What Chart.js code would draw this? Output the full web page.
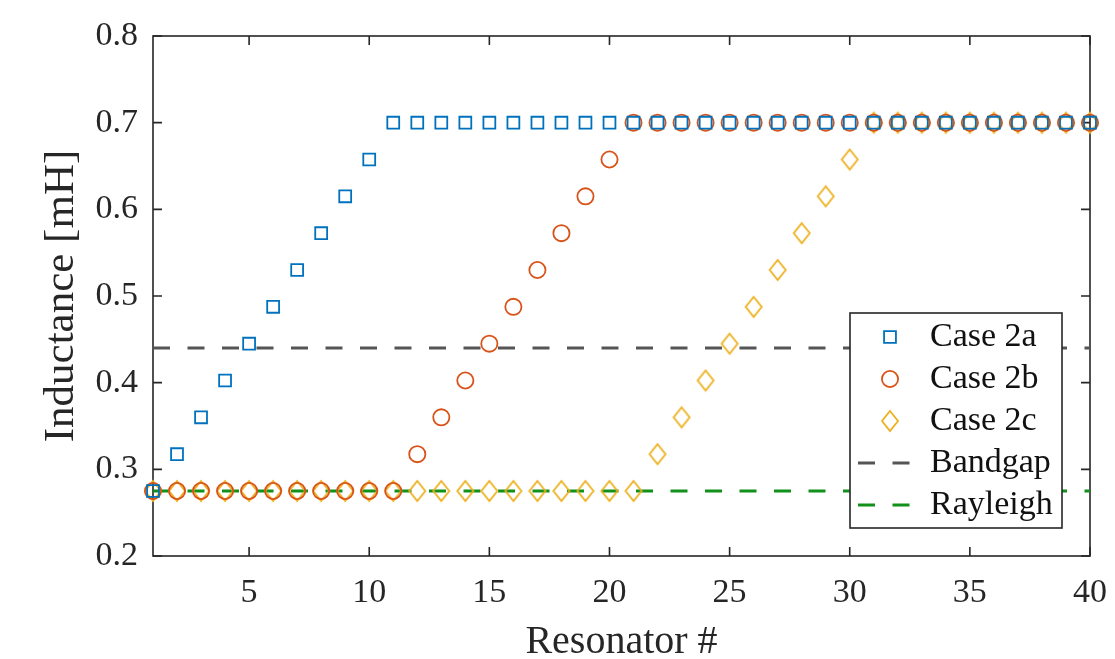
<!DOCTYPE html>
<html>
<head>
<meta charset="utf-8">
<script src="https://cdn.jsdelivr.net/npm/chart.js@4/dist/chart.umd.min.js"></script>
<style>
  html, body { margin: 0; padding: 0; background: #ffffff; }
  #wrap { width: 1115px; height: 659px; }
</style>
</head>
<body>
<div id="wrap"><canvas id="c" width="1115" height="659"></canvas></div>
<script>
// ---- Data ----
const resonator = [1,2,3,4,5,6,7,8,9,10,11,12,13,14,15,16,17,18,19,20,
                   21,22,23,24,25,26,27,28,29,30,31,32,33,34,35,36,37,38,39,40];
const case2a = [0.275,0.3175,0.36,0.4025,0.445,0.4875,0.53,0.5725,0.615,0.6575,
                0.7,0.7,0.7,0.7,0.7,0.7,0.7,0.7,0.7,0.7,
                0.7,0.7,0.7,0.7,0.7,0.7,0.7,0.7,0.7,0.7,
                0.7,0.7,0.7,0.7,0.7,0.7,0.7,0.7,0.7,0.7];
const case2b = [0.275,0.275,0.275,0.275,0.275,0.275,0.275,0.275,0.275,0.275,
                0.275,0.3175,0.36,0.4025,0.445,0.4875,0.53,0.5725,0.615,0.6575,
                0.7,0.7,0.7,0.7,0.7,0.7,0.7,0.7,0.7,0.7,
                0.7,0.7,0.7,0.7,0.7,0.7,0.7,0.7,0.7,0.7];
const case2c = [0.275,0.275,0.275,0.275,0.275,0.275,0.275,0.275,0.275,0.275,
                0.275,0.275,0.275,0.275,0.275,0.275,0.275,0.275,0.275,0.275,
                0.275,0.3175,0.36,0.4025,0.445,0.4875,0.53,0.5725,0.615,0.6575,
                0.7,0.7,0.7,0.7,0.7,0.7,0.7,0.7,0.7,0.7];
const bandgapX = [1, 40];
const bandgapY = [0.44, 0.44];
const rayleighX = [1, 40];
const rayleighY = [0.275, 0.275];
const xTicks = [5, 10, 15, 20, 25, 30, 35, 40];
const yTicks = [0.2, 0.3, 0.4, 0.5, 0.6, 0.7, 0.8];
const seriesNames = ['Case 2a', 'Case 2b', 'Case 2c', 'Bandgap', 'Rayleigh'];

// ---- Styles ----
const FONT = '"Liberation Serif", "Times New Roman", serif';
const AXIS_COLOR = '#262626';
const C_BLUE = '#0072BD', C_ORANGE = '#D95319', C_YELLOW = '#EDB120';
const C_GRAY = '#555555', C_GREEN = '#11901a';

function makeDiamond(w, h, color, lw) {
  const c = document.createElement('canvas');
  c.width = w + 4; c.height = h + 4;
  const g = c.getContext('2d');
  const cx = c.width / 2, cy = c.height / 2;
  g.strokeStyle = color; g.lineWidth = lw; g.lineJoin = 'miter';
  g.beginPath();
  g.moveTo(cx, cy - h / 2); g.lineTo(cx + w / 2, cy);
  g.lineTo(cx, cy + h / 2); g.lineTo(cx - w / 2, cy);
  g.closePath(); g.stroke();
  return c;
}
const diamondImg = makeDiamond(16, 20, C_YELLOW, 1.8);

const toXY = (xs, ys) => xs.map((x, i) => ({ x: x, y: ys[i] }));

const markerBase = { showLine: false, backgroundColor: 'rgba(0,0,0,0)', pointBorderWidth: 1.8,
                     pointHoverRadius: 8, clip: false };

const datasets = [
  Object.assign({}, markerBase, { label: seriesNames[0], data: toXY(resonator, case2a),
    borderColor: C_BLUE, pointBorderColor: C_BLUE, pointStyle: 'rect', pointRadius: 8.4 }),
  Object.assign({}, markerBase, { label: seriesNames[1], data: toXY(resonator, case2b),
    borderColor: C_ORANGE, pointBorderColor: C_ORANGE, pointStyle: 'circle', pointRadius: 8.1 }),
  Object.assign({}, markerBase, { label: seriesNames[2], data: toXY(resonator, case2c),
    borderColor: C_YELLOW, pointBorderColor: C_YELLOW, pointStyle: diamondImg, pointRadius: 10 }),
  { label: seriesNames[3], data: toXY(bandgapX, bandgapY), showLine: true, borderColor: C_GRAY,
    borderWidth: 3, borderDash: [17, 17.5], pointRadius: 0, fill: false, clip: false },
  { label: seriesNames[4], data: toXY(rayleighX, rayleighY), showLine: true, borderColor: C_GREEN,
    borderWidth: 3, borderDash: [17, 17.5], pointRadius: 0, fill: false, clip: false }
];

// Frame with inward ticks on all four sides
const framePlugin = {
  id: 'frame',
  beforeDatasetsDraw(chart) {
    const { ctx, chartArea: a, scales } = chart;
    const tl = 9;
    ctx.save();
    ctx.strokeStyle = AXIS_COLOR; ctx.lineWidth = 1.6;
    ctx.strokeRect(a.left, a.top, a.right - a.left, a.bottom - a.top);
    ctx.beginPath();
    scales.x.ticks.forEach(t => {
      const px = scales.x.getPixelForValue(t.value);
      ctx.moveTo(px, a.bottom); ctx.lineTo(px, a.bottom - tl);
      ctx.moveTo(px, a.top); ctx.lineTo(px, a.top + tl);
    });
    scales.y.ticks.forEach(t => {
      const py = scales.y.getPixelForValue(t.value);
      ctx.moveTo(a.left, py); ctx.lineTo(a.left + tl, py);
      ctx.moveTo(a.right, py); ctx.lineTo(a.right - tl, py);
    });
    ctx.stroke();
    ctx.restore();
  }
};

// Legend box inside the plot (MATLAB style)
const legendPlugin = {
  id: 'matlabLegend',
  afterDraw(chart) {
    const { ctx } = chart;
    const box = { left: 850, top: 313, right: 1062, bottom: 528 };
    const firstY = 337, step = 42, symX = 890, textX = 930;
    ctx.save();
    ctx.fillStyle = '#ffffff';
    ctx.fillRect(box.left, box.top, box.right - box.left, box.bottom - box.top);
    ctx.strokeStyle = AXIS_COLOR; ctx.lineWidth = 1.6;
    ctx.strokeRect(box.left, box.top, box.right - box.left, box.bottom - box.top);
    chart.data.datasets.forEach((ds, i) => {
      const y = firstY + i * step;
      ctx.save();
      if (ds.showLine) {
        ctx.strokeStyle = ds.borderColor; ctx.lineWidth = ds.borderWidth;
        ctx.setLineDash(ds.borderDash);
        ctx.beginPath(); ctx.moveTo(858, y); ctx.lineTo(910, y); ctx.stroke();
      } else {
        ctx.strokeStyle = ds.pointBorderColor; ctx.fillStyle = 'rgba(0,0,0,0)';
        ctx.lineWidth = ds.pointBorderWidth;
        Chart.helpers.drawPoint(ctx, { pointStyle: ds.pointStyle, radius: ds.pointRadius,
          borderWidth: ds.pointBorderWidth, rotation: 0 }, symX, y);
      }
      ctx.restore();
      ctx.fillStyle = '#111111';
      ctx.font = '34px ' + FONT;
      ctx.textAlign = 'left'; ctx.textBaseline = 'middle';
      ctx.fillText(ds.label, textX, y);
    });
    ctx.restore();
  }
};

new Chart(document.getElementById('c'), {
  type: 'scatter',
  data: { datasets },
  options: {
    responsive: false,
    animation: false,
    devicePixelRatio: 1,
    layout: { padding: { top: 36, right: 25, bottom: 0, left: 0 } },
    plugins: { legend: { display: false }, tooltip: { enabled: false } },
    scales: {
      x: {
        type: 'linear', min: 1, max: 40,
        afterBuildTicks: s => { s.ticks = xTicks.map(v => ({ value: v })); },
        afterFit: s => { s.height = 103; s.paddingLeft = 0; s.paddingRight = 0; },
        grid: { display: false, drawTicks: false },
        border: { display: false },
        ticks: { color: AXIS_COLOR, font: { family: FONT, size: 34 }, padding: 17,
                 maxRotation: 0, autoSkip: false },
        title: { display: true, text: 'Resonator #', color: AXIS_COLOR,
                 font: { family: FONT, size: 40, lineHeight: 1 }, padding: { top: 0, bottom: -3.5 } }
      },
      y: {
        type: 'linear', min: 0.2, max: 0.8,
        afterBuildTicks: s => { s.ticks = yTicks.map(v => ({ value: v })); },
        afterFit: s => { s.width = 153; s.paddingTop = 0; s.paddingBottom = 0; },
        grid: { display: false, drawTicks: false },
        border: { display: false },
        ticks: { color: AXIS_COLOR, font: { family: FONT, size: 34 }, padding: 15, autoSkip: false,
                 callback: v => Number(v).toFixed(1) },
        title: { display: true, text: 'Inductance [mH]', color: AXIS_COLOR,
                 font: { family: FONT, size: 43, lineHeight: 1 }, padding: { top: 40.5, bottom: 0 } }
      }
    }
  },
  plugins: [framePlugin, legendPlugin]
});
</script>
</body>
</html>
